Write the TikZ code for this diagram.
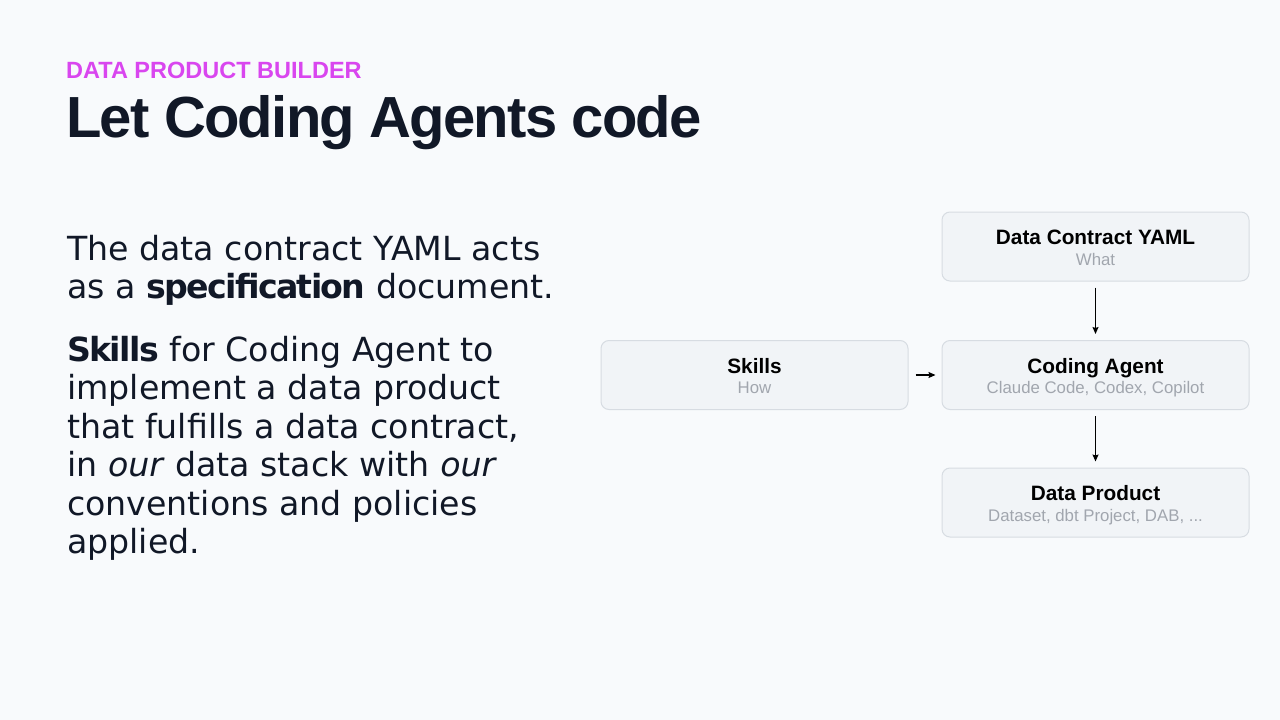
\documentclass[tikz,border=0pt]{standalone}
\usepackage{fontspec}
\setmainfont{Liberation Sans}
\newfontfamily\bodyfont{DejaVu Sans}
\newfontfamily\bodybf[LetterSpace=-5]{DejaVu Sans Bold}
\newfontfamily\headfont[LetterSpace=-3]{Liberation Sans}
\usetikzlibrary{arrows.meta}
\definecolor{bg}{HTML}{F8FAFC}
\definecolor{ink}{HTML}{111827}
\definecolor{accent}{HTML}{D946EF}
\definecolor{boxfill}{HTML}{F1F4F7}
\definecolor{boxline}{HTML}{D7DCE2}
\definecolor{subgray}{HTML}{A1A6AE}
\newcommand{\bw}[1]{{\bodybf #1}}
\tikzset{
  flowbox/.style={draw=boxline, fill=boxfill, rounded corners=8pt, line width=1pt,
    minimum width=307pt, minimum height=69pt, inner sep=0pt},
  boxtitle/.style={anchor=base, inner sep=0pt, text=black, font=\fontsize{20.8}{24}\selectfont\bfseries},
  boxsub/.style={anchor=base, inner sep=0pt, text=subgray, font=\fontsize{16.8}{20}\selectfont},
  bodyline/.style={anchor=base west, inner sep=0pt, text=ink, font=\bodyfont\fontsize{33.2}{38}\selectfont},
  flowarrow/.style={-{Stealth[length=7pt,width=6pt,inset=1pt]}, line width=1.2pt, black},
}
\begin{document}
\begin{tikzpicture}[x=1pt,y=-1pt]
\fill[bg] (0,0) rectangle (1280,720);
\useasboundingbox (0,0) rectangle (1280,720);

\node[anchor=base west, inner sep=0pt, text=accent, font=\fontsize{23.5}{28}\selectfont\bfseries] (kicker) at (66,78) {DATA PRODUCT BUILDER};
\node[anchor=base west, inner sep=0pt, text=ink, font=\headfont\fontsize{58}{64}\selectfont\bfseries] (title) at (66,137) {Let Coding Agents code};

\node[bodyline] (l1) at (67,260) {The data contract YAML acts};
\node[bodyline] (l2) at (67,298.5) {as a \bw{specification} document.};
\node[bodyline] (l3) at (67,361) {\bw{Skills} for Coding Agent to};
\node[bodyline] (l4) at (67,399.5) {implement a data product};
\node[bodyline] (l5) at (67,438) {that fulfills a data contract,};
\node[bodyline] (l6) at (67,476.5) {in \textit{our} data stack with \textit{our}};
\node[bodyline] (l7) at (67,515) {conventions and policies};
\node[bodyline] (l8) at (67,553.5) {applied.};

\node[flowbox] (dc) at (1095.5,246.5) {};
\node[flowbox] (sk) at (754.5,375) {};
\node[flowbox] (ca) at (1095.5,375) {};
\node[flowbox] (dp) at (1095.5,502.5) {};

\node[boxtitle] (dct) at ([yshift=2pt]dc.center) {Data Contract YAML};
\node[boxsub] (dcs) at ([yshift=-18.5pt]dc.center) {What};
\node[boxtitle] (skt) at ([yshift=2pt]sk.center) {Skills};
\node[boxsub] (sks) at ([yshift=-18.5pt]sk.center) {How};
\node[boxtitle] (cat) at ([yshift=2pt]ca.center) {Coding Agent};
\node[boxsub] (cas) at ([yshift=-18.5pt]ca.center) {Claude Code, Codex, Copilot};
\node[boxtitle] (dpt) at ([yshift=2pt]dp.center) {Data Product};
\node[boxsub] (dps) at ([yshift=-18.5pt]dp.center) {Dataset, dbt Project, DAB, ...};

\draw[flowarrow, shorten <=6pt, shorten >=6pt] (dc.south) -- (ca.north);
\draw[flowarrow, shorten <=6pt, shorten >=6pt] (ca.south) -- (dp.north);
\draw[flowarrow, shorten <=7pt, shorten >=6pt] (sk.east) -- (ca.west);
\end{tikzpicture}
\end{document}
